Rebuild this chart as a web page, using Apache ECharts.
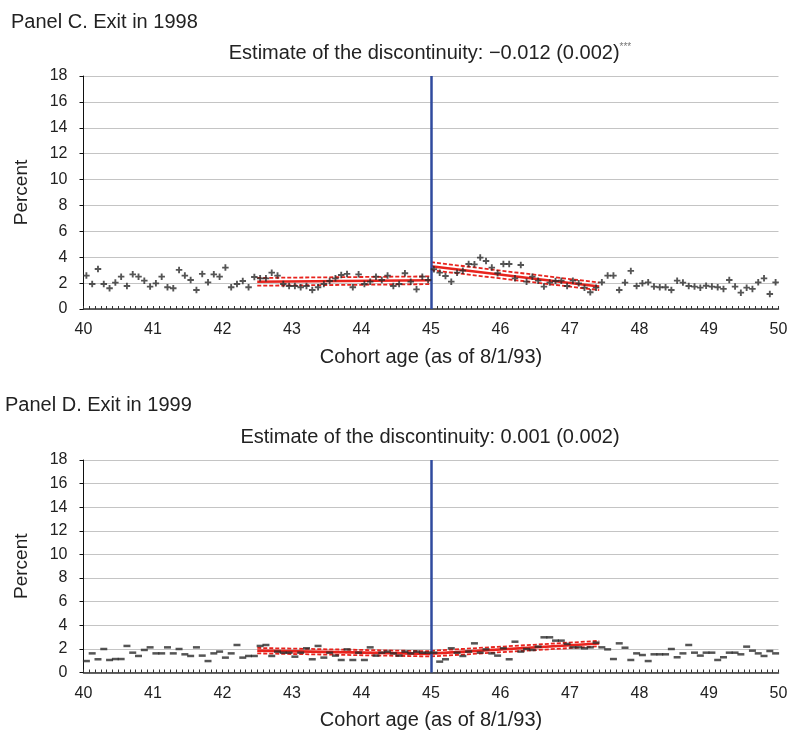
<!DOCTYPE html>
<html>
<head>
<meta charset="utf-8">
<style>html,body{margin:0;padding:0;background:#fff;}#c{width:792px;height:732px;}</style>
<script src="https://cdn.jsdelivr.net/npm/echarts@6/dist/echarts.min.js"></script>
</head>
<body>
<div id="c"></div>
<script>
// Cohort month index 0..119 covers ages 40 to 50 (monthly cohorts)
var startAge = 40;
var tickLabels = ['40','41','42','43','44','45','46','47','48','49','50'];
var yTicks = [0,2,4,6,8,10,12,14,16,18];

var panelC_values = [2.58,1.93,3.09,1.93,1.60,2.04,2.50,1.78,2.68,2.50,2.19,1.73,1.98,2.50,1.68,1.60,3.02,2.58,2.24,1.47,2.71,2.06,2.68,2.50,3.20,1.68,1.93,2.16,1.68,
  2.47,2.37,2.37,2.81,2.58,1.93,1.78,1.78,1.68,1.78,1.47,1.68,1.93,2.16,2.37,2.63,2.71,1.68,2.68,1.93,2.11,2.50,2.24,2.58,1.78,1.93,2.76,2.11,1.52,2.50,2.24,
  3.07,2.81,2.55,2.11,2.81,2.96,3.48,3.45,3.97,3.71,3.20,2.76,3.48,3.48,2.37,3.40,2.11,2.50,2.19,1.73,2.04,2.16,2.19,1.78,2.19,1.98,1.65,1.29,1.65,2.06,2.58,2.58,
  1.47,2.04,2.94,1.78,1.98,2.06,1.73,1.68,1.68,1.47,2.19,2.04,1.78,1.73,1.65,1.80,1.73,1.68,1.55,2.24,1.73,1.26,1.65,1.55,2.06,2.37,1.16,2.06];

var panelD_values = [0.97,1.62,1.12,1.99,1.06,1.14,1.14,2.25,1.68,1.40,1.91,2.13,1.62,1.62,2.13,1.62,1.99,1.54,1.40,2.13,1.43,0.97,1.62,1.77,1.26,1.62,2.33,1.26,1.40,
  1.40,2.25,2.33,1.40,1.77,1.68,1.68,1.34,1.68,2.05,1.12,2.25,1.26,1.68,1.43,1.06,1.96,1.06,1.68,1.06,2.13,1.43,1.68,1.77,1.62,1.43,1.77,1.62,1.77,1.68,1.68,
  1.68,0.92,1.12,2.05,1.68,1.40,1.77,2.47,1.68,1.96,1.62,1.43,2.05,1.12,2.61,1.77,1.99,1.91,2.19,2.98,2.98,2.70,2.70,2.42,2.13,2.13,2.05,2.13,2.53,2.13,1.96,1.14,
  2.47,2.10,1.06,1.62,1.48,0.97,1.54,1.54,1.54,1.99,1.29,1.62,2.33,1.68,1.43,1.68,1.68,1.06,1.29,1.68,1.68,1.54,2.19,1.85,1.62,1.40,1.82,1.62];

// Fitted lines: [age, percent]
var fitC_left  = [[42.5, 2.10], [45, 2.22]];
var fitC_leftHi = [[42.5, 2.40], [45, 2.52]];
var fitC_leftLo = [[42.5, 1.80], [45, 1.92]];
var fitC_right  = [[45, 3.30], [47.42, 1.74]];
var fitC_rightHi = [[45, 3.62], [47.42, 2.04]];
var fitC_rightLo = [[45, 3.00], [47.42, 1.46]];

var fitD_left  = [[42.5, 1.85], [45, 1.58]];
var fitD_leftHi = [[42.5, 2.08], [45, 1.80]];
var fitD_leftLo = [[42.5, 1.62], [45, 1.36]];
var fitD_right  = [[45, 1.60], [47.42, 2.45]];
var fitD_rightHi = [[45, 1.84], [47.42, 2.68]];
var fitD_rightLo = [[45, 1.36], [47.42, 2.22]];

var cutoff = 45;

function pts(vals){
  return vals.map(function(v, m){ return [startAge + (m + 0.5) / 12, v]; });
}

var FONT = '"Liberation Sans", Arial, Helvetica, sans-serif';
var RED = '#e8231d';

function xAxisFor(gi){
  return {
    type: 'value', gridIndex: gi, min: 40, max: 50, interval: 1,
    name: 'Cohort age (as of 8/1/93)', nameLocation: 'middle', nameGap: 38,
    nameTextStyle: {fontFamily: FONT, fontSize: 20, color: '#222'},
    axisLine: {show: true, onZero: false, lineStyle: {color: '#333', width: 1.5}},
    axisTick: {show: true, inside: true, length: 3, lineStyle: {color: '#333'}},
    minorTick: {show: true, splitNumber: 12, length: 3, lineStyle: {color: '#333', width: 1}},
    splitLine: {show: false},
    axisLabel: {fontFamily: FONT, fontSize: 16, color: '#222', margin: 13,
      formatter: function(v){ return tickLabels[Math.round(v - 40)]; }}
  };
}
function yAxisFor(gi){
  return {
    type: 'value', gridIndex: gi, min: 0, max: 18, interval: 2,
    name: 'Percent', nameLocation: 'middle', nameGap: 52, nameRotate: 90,
    nameTextStyle: {fontFamily: FONT, fontSize: 19, color: '#222'},
    axisLine: {show: true, lineStyle: {color: '#111', width: 1}},
    axisTick: {show: true, inside: false, length: 4, lineStyle: {color: '#111'}},
    splitLine: {show: true, lineStyle: {color: '#c4c4c4', width: 1}},
    axisLabel: {fontFamily: FONT, fontSize: 16, color: '#222', margin: 16,
      formatter: function(v){ return String(v); }}
  };
}

function fitSeries(data, gi, dashed){
  return {
    type: 'line', xAxisIndex: gi, yAxisIndex: gi, data: data, symbol: 'none', silent: true, z: 3,
    lineStyle: {color: RED, width: dashed ? 1.8 : 2.6, type: dashed ? [4, 2] : 'solid'}
  };
}

var plusPath = 'path://M2.5,0H4.5V2.5H7V4.5H4.5V7H2.5V4.5H0V2.5H2.5Z';
var normalText = {fontFamily: FONT, fontSize: 20, fontWeight: 'normal', color: '#222'};

var option = {
  animation: false,
  backgroundColor: '#fff',
  title: [
    {text: 'Panel C. Exit in 1998', left: 11, top: 12, padding: 0, textStyle: normalText},
    {text: '{a|Estimate of the discontinuity: \u22120.012 (0.002)}{s|***}', left: 430, top: 42, padding: 0, textAlign: 'center',
     textStyle: {fontWeight: 'normal', rich: {
       a: {fontFamily: FONT, fontSize: 20, fontWeight: 'normal', color: '#222', lineHeight: 22},
       s: {fontFamily: FONT, fontSize: 10, fontWeight: 'normal', color: '#777', verticalAlign: 'top', lineHeight: 10}
     }}},
    {text: 'Panel D. Exit in 1999', left: 5, top: 395, padding: 0, textStyle: normalText},
    {text: 'Estimate of the discontinuity: 0.001 (0.002)', left: 430, top: 427, padding: 0, textAlign: 'center',
     textStyle: normalText}
  ],
  grid: [
    {left: 83.5, right: 13.5, top: 76, height: 233},
    {left: 83.5, right: 13.5, top: 460, height: 212.5}
  ],
  xAxis: [xAxisFor(0), xAxisFor(1)],
  yAxis: [yAxisFor(0), yAxisFor(1)],
  series: [
    {type: 'scatter', xAxisIndex: 0, yAxisIndex: 0, data: pts(panelC_values), symbol: plusPath, symbolSize: 6.5,
     itemStyle: {color: '#2a2a2a'}, z: 5, silent: true,
     markLine: {silent: true, symbol: ['none','none'], label: {show: false}, animation: false,
       lineStyle: {color: '#2f4a9e', width: 2.5, type: 'solid'}, data: [{xAxis: cutoff}]}},
    fitSeries(fitC_left, 0, false), fitSeries(fitC_leftHi, 0, true), fitSeries(fitC_leftLo, 0, true),
    fitSeries(fitC_right, 0, false), fitSeries(fitC_rightHi, 0, true), fitSeries(fitC_rightLo, 0, true),
    {type: 'scatter', xAxisIndex: 1, yAxisIndex: 1, data: pts(panelD_values), symbol: 'rect', symbolSize: [7, 2.5],
     itemStyle: {color: '#2a2a2a'}, z: 5, silent: true,
     markLine: {silent: true, symbol: ['none','none'], label: {show: false}, animation: false,
       lineStyle: {color: '#2f4a9e', width: 2.5, type: 'solid'}, data: [{xAxis: cutoff}]}},
    fitSeries(fitD_left, 1, false), fitSeries(fitD_leftHi, 1, true), fitSeries(fitD_leftLo, 1, true),
    fitSeries(fitD_right, 1, false), fitSeries(fitD_rightHi, 1, true), fitSeries(fitD_rightLo, 1, true)
  ]
};

var chart = echarts.init(document.getElementById('c'), null, {renderer: 'canvas'});
chart.setOption(option);
</script>
</body>
</html>
